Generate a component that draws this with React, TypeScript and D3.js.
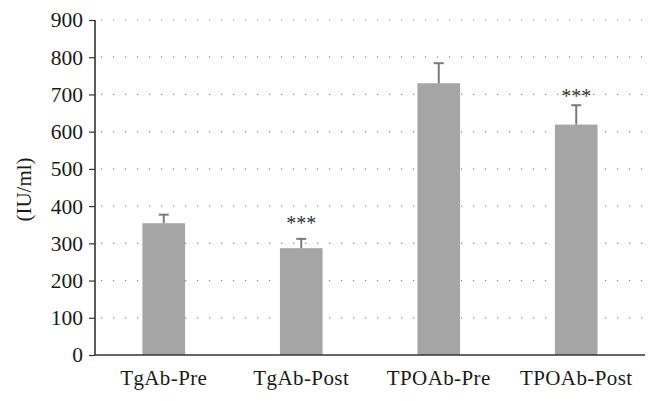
import React, { useEffect, useRef } from 'react';
import * as d3 from 'd3';

// data
const categories = ['TgAb-Pre', 'TgAb-Post', 'TPOAb-Pre', 'TPOAb-Post'];
const means = [354, 287, 730, 619];
const errors = [23, 25, 54, 52];
const significance = ['', '***', '', '***'];
const starLevels = [0, 366, 0, 707];
const yTicks = [0, 100, 200, 300, 400, 500, 600, 700, 800, 900];

const App = () => {
  const chartRef = useRef<SVGSVGElement | null>(null);

  useEffect(() => {
    const width = 659;
    const height = 401;
    const margin = { top: 20, right: 14, bottom: 46, left: 95 };
    const font = '"Liberation Serif", "Times New Roman", serif';

    const svg = d3.select(chartRef.current);
    svg.selectAll('*').remove();

    const x = d3.scaleBand()
      .domain(categories)
      .range([margin.left, width - margin.right])
      .paddingInner(0.69)
      .paddingOuter(0.345);

    const y = d3.scaleLinear()
      .domain([0, 900])
      .range([height - margin.bottom, margin.top]);

    // dotted gridlines
    svg.append('g')
      .selectAll('line')
      .data(yTicks.filter(t => t > 0))
      .enter()
      .append('line')
      .attr('x1', margin.left + 6)
      .attr('x2', width - margin.right)
      .attr('y1', d => y(d))
      .attr('y2', d => y(d))
      .attr('stroke', '#8a8a8a')
      .attr('stroke-width', 1.2)
      .attr('stroke-dasharray', '1.2 10.8');

    // bars
    svg.append('g')
      .selectAll('rect')
      .data(categories)
      .enter()
      .append('rect')
      .attr('x', d => x(d)!)
      .attr('y', (d, i) => y(means[i]))
      .attr('width', x.bandwidth())
      .attr('height', (d, i) => y(0) - y(means[i]))
      .attr('fill', '#a5a5a5');

    // error bars (upper only)
    const err = svg.append('g').attr('stroke', '#7a7a7a').attr('stroke-width', 2);
    categories.forEach((c, i) => {
      const cx = x(c)! + x.bandwidth() / 2;
      err.append('line')
        .attr('x1', cx).attr('x2', cx)
        .attr('y1', y(means[i])).attr('y2', y(means[i] + errors[i]));
      err.append('line')
        .attr('x1', cx - 5).attr('x2', cx + 5)
        .attr('y1', y(means[i] + errors[i])).attr('y2', y(means[i] + errors[i]));
    });

    // significance stars
    svg.append('g')
      .selectAll('text')
      .data(categories)
      .enter()
      .append('text')
      .attr('x', d => x(d)! + x.bandwidth() / 2)
      .attr('y', (d, i) => y(starLevels[i]) + 11)
      .attr('text-anchor', 'middle')
      .attr('font-family', font)
      .attr('font-size', 20)
      .attr('fill', '#333')
      .text((d, i) => significance[i]);

    // y axis
    const yAxis = svg.append('g')
      .attr('transform', `translate(${margin.left},0)`)
      .call(d3.axisLeft(y).tickValues(yTicks).tickSize(6).tickPadding(6));
    yAxis.select('.domain').attr('stroke', '#333').attr('stroke-width', 1.6)
      .attr('d', `M0,${y(900)}V${y(0)}`);
    yAxis.selectAll('.tick line').attr('stroke', '#333').attr('stroke-width', 1.2);
    yAxis.selectAll('.tick text')
      .attr('font-family', font)
      .attr('font-size', 21.5)
      .attr('fill', '#1a1a1a');

    // x axis baseline + labels
    svg.append('line')
      .attr('x1', margin.left)
      .attr('x2', width - margin.right)
      .attr('y1', y(0))
      .attr('y2', y(0))
      .attr('stroke', '#333')
      .attr('stroke-width', 1.6);

    svg.append('g')
      .selectAll('text')
      .data(categories)
      .enter()
      .append('text')
      .attr('x', d => x(d)! + x.bandwidth() / 2)
      .attr('y', y(0) + 30)
      .attr('text-anchor', 'middle')
      .attr('font-family', font)
      .attr('font-size', 21)
      .attr('letter-spacing', 0.4)
      .attr('fill', '#1a1a1a')
      .text(d => d);

    // y label
    svg.append('text')
      .attr('transform', `translate(31,${(y(0) + y(900)) / 2 + 2}) rotate(-90)`)
      .attr('text-anchor', 'middle')
      .attr('font-family', font)
      .attr('font-size', 21)
      .attr('fill', '#1a1a1a')
      .text('(IU/ml)');
  }, []);

  return (
    <svg
      ref={chartRef}
      width={659}
      height={401}
      style={{ position: 'absolute', left: 0, top: 0, background: '#fff' }}
    />
  );
};

export default App;
